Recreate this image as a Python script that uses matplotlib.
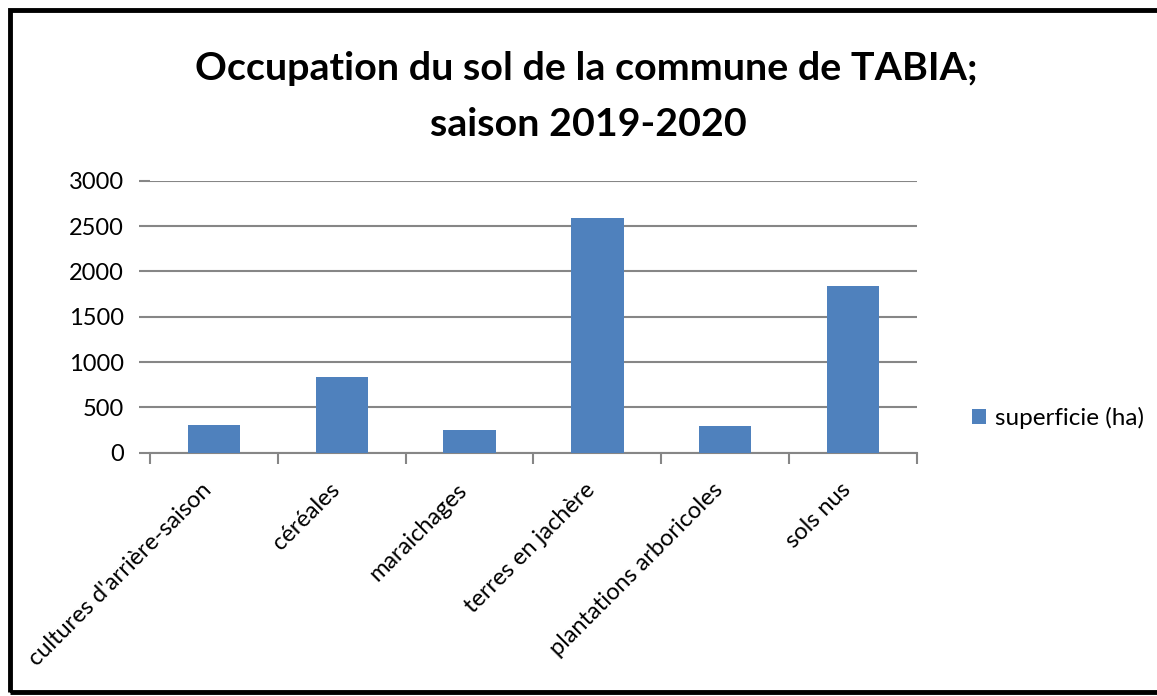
import numpy as np
import matplotlib
matplotlib.use("Agg")
import matplotlib.pyplot as plt
import matplotlib.transforms as mtransforms
from matplotlib.patches import Rectangle

plt.rcParams['font.family'] = ['Lato', 'DejaVu Sans']

categories = ["cultures d'arrière-saison", "céréales", "maraichages",
              "terres en jachère", "plantations arboricoles", "sols nus"]
superficie_ha = [310, 830, 255, 2590, 290, 1840]
yticks = [0, 500, 1000, 1500, 2000, 2500, 3000]

bar_color = '#4F81BD'
grid_color = '#868686'

W, H = 1157, 696
fig = plt.figure(figsize=(W / 100, H / 100), dpi=100)

# outer frame of the chart (right edge runs off the page)
fig.patches.append(Rectangle((9.5 / W, 1 - 691.5 / H), 1.2, (691.5 - 9.5) / H,
                             transform=fig.transFigure, fill=False,
                             edgecolor='black', linewidth=3.5, zorder=0))

ax = fig.add_axes([150 / W, 1 - 452.7 / H, (917 - 150) / W, (452.7 - 180.7) / H])

x = np.arange(len(categories))
ax.bar(x, superficie_ha, width=0.41, color=bar_color, zorder=3,
       label='superficie (ha)')

ax.set_xlim(-0.5, len(categories) - 0.5)
ax.set_ylim(0, 3000)
ax.set_yticks(yticks)
ax.set_yticklabels([str(v) for v in yticks], fontsize=17)
ax.yaxis.grid(True, color=grid_color, linewidth=1.5, zorder=0)
ax.tick_params(axis='y', length=8, width=1.5, color=grid_color, pad=11)

# category boundaries carry the ticks, labels sit at bar centres
ax.set_xticks(np.arange(len(categories) + 1) - 0.5)
ax.set_xticklabels([])
ax.tick_params(axis='x', which='major', length=8, width=1.5,
               color=grid_color, direction='out')
ax.set_xticks(x, minor=True)
ax.set_xticklabels(categories, minor=True, rotation=45, ha='right',
                   rotation_mode='anchor', fontsize=17)
ax.tick_params(axis='x', which='minor', length=0, pad=14)
shift = mtransforms.ScaledTranslation(-0.13, -0.07, fig.dpi_scale_trans)
for lbl in ax.get_xticklabels(minor=True):
    lbl.set_transform(lbl.get_transform() + shift)

for side in ['left', 'right', 'top']:
    ax.spines[side].set_visible(False)
ax.spines['bottom'].set_color(grid_color)
ax.spines['bottom'].set_linewidth(1.5)

fig.text(586 / W, 1 - 68 / H, "Occupation du sol de la commune de TABIA;",
         ha='center', va='center', fontsize=28.4, fontweight='bold')
fig.text(588 / W, 1 - 124 / H, "saison 2019-2020",
         ha='center', va='center', fontsize=28.4, fontweight='bold')

fig.legend(loc='center left', bbox_to_anchor=(962 / W, 1 - 418 / H),
           frameon=False, fontsize=17.5, handlelength=0.6, handleheight=0.6,
           handletextpad=0.35, borderaxespad=0)

fig.savefig('out.png', dpi=100)
